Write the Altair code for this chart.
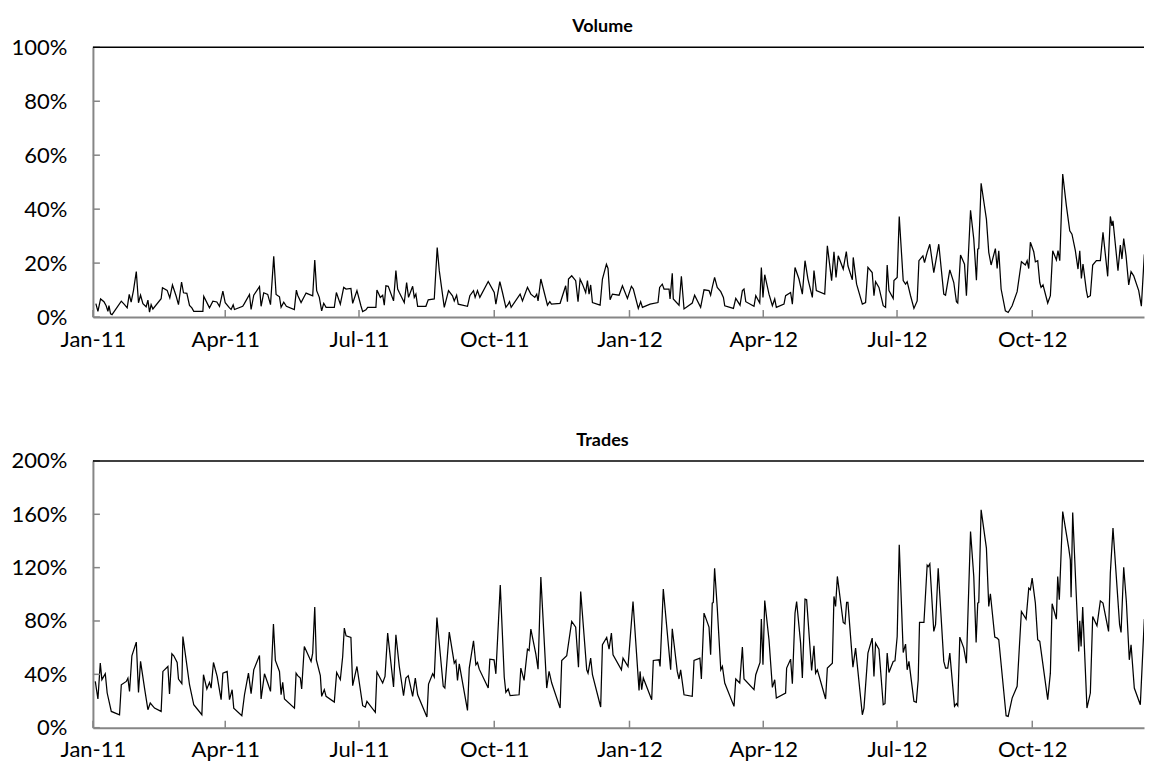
import altair as alt
import pandas as pd

# Day offsets are days since 2011-01-01; values are percentages.
volume_points = [
    (2,5.0),(3.4,2.1),(5.2,6.7),(7.5,5.7),(9,4.2),(10.2,2.1),(10.9,4.2),(12,1.2),(13,0.9),(19.3,5.9),
    (21.5,4.6),(23.3,3.4),(24.7,8.4),(26,5.5),(27.6,9.9),(29.5,16.9),(31,5.3),(32.4,8.1),(34,5.0),(36.2,3.8),
    (37.4,6.3),(38.5,1.8),(39.6,4.6),(40.8,3.0),(46.4,6.8),(47.3,10.9),(50.5,9.9),(52.3,7.1),(54.1,11.9),(56.6,7.8),
    (58.2,4.6),(60.3,13.0),(61.6,9.0),(63.9,8.8),(65.7,4.3),(67.3,3.4),(68.6,2.1),(74.8,2.1),(75.4,7.7),(78.2,4.6),
    (79.3,3.4),(81.6,5.9),(84.3,5.6),(86.1,4.0),(88.4,9.6),(90,5.3),(92.9,3.4),(94,2.8),(95.4,4.5),(96.3,2.8),
    (101.9,4.0),(103,5.0),(106.5,8.4),(107.6,2.8),(109.4,8.1),(113.3,11.3),(114.4,4.0),(116.2,9.0),(118.9,8.4),(120.8,4.6),
    (123,22.5),(124.6,8.4),(126.9,7.5),(128,3.6),(129.8,5.5),(131.6,4.0),(137,2.8),(138.4,10.0),
    (139.3,8.1),(141.6,5.4),(145,8.9),(149.5,7.9),(150.9,21.1),(152.2,9.8),(154,7.3),(155.6,2.3),(157,5.1),(158.6,3.6),
    (164.2,3.6),(165.6,9.1),(168.3,4.8),(170.6,11.0),(172.2,10.4),(175.5,10.6),(176.7,5.1),(179.6,9.8),(182.3,4.2),(183.5,2.0),
    (185.7,2.7),(186.9,3.6),(192.5,3.6),(193.2,10.0),(195.5,7.3),(197.1,8.1),(198.2,4.4),(199.3,11.6),(200.9,11.4),(204.5,6.0),
    (206.1,17.2),(207.3,10.4),(208.4,9.1),(211.8,5.4),(213.4,12.8),(214.7,7.3),(217.5,11.4),(218.6,7.3),(219.7,8.5),(220.9,4.0),
    (226.5,4.0),(228.1,6.4),(232.2,6.7),(234.2,25.8),(235.6,17.2),(239,3.6),(241.9,9.8),(244.6,7.9),(245.8,6.0),(247.4,8.1),
    (248.5,4.8),(254.8,4.0),(256.4,7.9),(258.9,9.8),(260,7.3),(261.6,9.8),(263.2,7.3),(268.9,13.2),(273,9.1),(274.1,4.8),
    (276.8,13.1),(278.6,9.1),(280.9,3.6),
    (282.5,4.8),(283.4,5.7),(284.5,3.6),(290.6,8.5),(292.2,6.0),(295.6,11.0),(297.9,8.5),(300.6,7.3),(301.9,8.5),(302.8,6.0),
    (304.7,14.1),(309.2,4.4),(310.8,5.7),(311.9,4.8),(317.8,5.1),(321.6,11.6),(322.8,5.7),(323.5,14.1),(325.7,15.3),(328.4,13.5),
    (330,5.7),(331.4,14.1),(333,12.2),(335.2,9.1),(336.4,13.5),(337.5,8.5),(338.6,11.9),(339.8,5.4),(345,4.4),(346.6,14.1),
    (349.3,19.6),(350.4,18.0),(351.8,6.4),(353.4,8.5),(357.9,8.1),(360.2,11.6),(363.6,6.9),(366.3,11.4),(367.6,10.4),(371,3.2),
    (372.6,5.7),(373.8,3.6),(379,4.8),(384.4,5.4),(385.5,11.0),(387.3,12.2),(388.5,10.4),(391.9,10.4),(392.6,6.7),(394.1,16.2),
    (394.8,6.7),(398.7,4.4),(400.3,15.1),(402.1,3.0),(407.7,5.2),(409.3,8.1),(413.4,3.6),(415.7,10.1),(419.1,9.8),(420.2,8.1),
    (421.3,11.0),(422.9,14.7),(424.7,11.0),
    (427.1,9.4),(428.9,7.3),(429.8,4.2),(435.7,3.2),(437.3,6.9),(440.2,4.4),(441.8,9.8),(442.9,10.4),(444.1,5.7),(449.7,4.0),
    (450.9,7.9),(453.6,5.2),(454.7,18.4),(455.8,7.3),(457,15.7),(459.9,8.5),(462.2,4.2),(463.8,6.7),(464.9,3.6),(470.1,4.8),
    (471.2,7.9),(474.6,9.1),(475.8,4.8),(477.6,18.4),(480.3,14.1),(482.6,8.5),(484.4,20.9),(486.4,14.1),(489.4,7.3),(490.5,17.2),
    (492.1,9.8),(497.8,8.5),(499.6,26.4),(502.5,13.5),(504.1,24.2),(505.5,14.7),(507,22.7),(510.4,17.8),(512.5,24.3),(513.6,19.0),
    (516.6,13.8),(517.2,22.1),(519.5,12.2),(523.4,4.8),(525.6,5.4),(527.2,18.4),(530.1,16.5),(531.3,7.9),(532.4,13.1),(534.7,11.0),
    (537.6,4.2),(539.2,3.6),(540.3,19.3),(541.5,9.8),(544.4,6.9),(544.9,13.5),(547.1,14.7),(548.5,37.3),(551.2,13.5),(552.8,12.2),
    (553.9,13.1),(556.2,7.9),(558.5,3.2),(560.7,6.0),(561.9,20.9),(564.6,22.7),(565.7,20.2),
    (567.5,24.0),(569.3,27.0),(572,16.5),(575.4,27.0),(578.8,8.5),(580,8.1),(582.9,17.5),(585.6,12.8),(587.4,5.7),(588.3,5.2),
    (590.2,23.0),(592.9,19.6),(594.2,7.9),(597,39.6),(599.2,28.9),(601,13.7),(601.9,25.2),(602.6,25.4),(604.2,49.6),(607.8,36.3),
    (609.4,24.0),(611,19.3),(613.9,25.4),(615.1,18.0),(616.2,24.6),(617.8,10.4),(620.7,2.3),(622.6,1.7),(625.3,4.2),(628.7,9.4),
    (631.6,20.5),(634.3,19.3),(635.5,20.9),(636.6,18.0),(637.7,27.7),(640,24.2),(641.1,20.5),(642.7,20.9),(644.1,12.8),(645,11.0),
    (646.3,11.9),(649.5,5.2),(651.3,7.9),(652.9,24.6),(655.4,21.2),(656.5,24.6),(657.7,20.9),(659.7,53.0),(662.2,41.2),(664.5,32.0),
    (666,30.7),(668.3,24.6),(670.1,17.8),(671.3,24.6),(672.4,14.3),(673.5,19.6),(675.8,9.8),(676.7,7.3),(678.5,7.9),(680.1,19.3),
    (682.6,20.9),(685.3,20.9),(687.1,31.4),(690.3,15.1),(692.1,37.3),(693.2,33.8),(693.9,35.7),(697.3,17.2),(698.9,26.7),(700,21.5),
    (701.2,29.1),(702.8,22.7),(704.6,11.9),(706.2,16.8),(708,15.3),(711.4,9.8),(713.2,4.0),(715.2,23.0),(718.2,27.0),(719.7,23.3),
]

trades_points = [
    (1.6,34.7),(3.4,21.5),(5,48.4),(6.1,36),(8.4,40.4),(9.7,26),(12.5,12.2),(18.1,9.7),(19.3,32.2),(22.7,34.7),
    (23.8,37.2),(24.9,27.2),(26.5,53.9),(29.5,64.2),(31,26.5),(32.4,49.7),(35.1,29.7),(37.4,13.5),(39,18.5),(41.9,14.7),
    (46.4,12.2),(47.6,42.2),(51,45.9),(52.1,25.2),(53.7,55.4),(55,53.9),(57.3,48.9),(58.2,36.5),(60.5,33),(61.2,68.4),
    (63.4,50.9),(65.7,32.2),(68.6,17.2),(74.1,9.7),(75.2,39.7),(77.5,29),(79.3,34),(80.4,29.7),(82,48.9),(84.5,38.5),
    (87.2,21),(88.4,40.9),(91.3,42.2),(92.9,21),(94.7,28.5),(95.8,14.7),(101.3,9),(103.1,24.7),(105.8,40.9),(107.6,25.5),
    (109.4,43.4),(113.3,54.2),(114.4,21.5),(116.7,40.4),(118.9,33.5),(120.8,27.2),(122.8,77.7),(124.1,50.4),(126.9,42.2),(128,24.7),
    (129.1,34),(130.3,21.5),(137.1,14.7),(138.2,40.9),
    (139.3,39),(141.1,37.2),(142,29),(143.8,60.9),(148.4,49.7),(149.5,55.9),(150.9,90.4),(152,50.9),(154.7,39),(155.6,23.5),
    (157.4,28.5),(158.6,23.5),(164.2,19.2),(165.8,41.4),(168.3,36),(169.9,53.4),(171,74.7),(172.2,68.9),(175.5,67.7),(176.7,31.5),
    (179.6,45.9),(183.5,16.5),(185.3,15.5),(186.4,19.7),(192.1,11.5),(193.2,41.7),(197.1,33.5),(198.7,38.5),(200.5,70.9),(204.5,30.5),
    (206.1,69.7),(208.4,45.9),(211.3,24),(212.9,37.2),(214.5,39),(217.5,23.5),(219.3,37.2),(220.9,24.7),(227.2,8),(228.3,32.7),
    (231.1,40.4),(232.2,38),(234,82.6),(238.3,31),(239.4,29.7),(242.4,71.7),(245.8,48.4),(246.9,50.4),(248,35.5),(249.2,47.9),
    (254.8,13),(256,44.7),(258.9,65.2),(260.5,47.2),(261.6,48.9),(262.8,43.9),(268.9,29.7),(270,51.4),(272.9,50.9),(274.1,40.4),
    (277.1,107),(279.8,38),(280.9,26.5),
    (282.5,29),(283.8,24),(289.9,24.7),(291.1,44.7),(293.3,35.5),(295.6,58.9),(296.7,57.9),(297.9,73.9),(301.3,55.2),(302.8,43.9),
    (304.7,112.9),(308.7,29.7),(310.3,42.2),(312.1,33.5),(317.8,14.7),(318.9,50.4),(322.3,53.9),(325.7,79.7),(328.4,75.4),(330.3,45.4),
    (331.8,102.1),(335.9,43.4),(336.8,40.9),(338.6,52.2),(339.8,39.7),(345.4,15.5),(346.6,62.2),(349.5,67.7),(351.1,58.9),(352.7,70.9),
    (353.8,54.7),(359.5,43.4),(360.6,52.2),(364,45.9),(367.4,94.6),(371.5,28),(372.2,42.2),(373.3,28.5),(374.4,37.2),(380.1,21),
    (381.2,50.4),(385.1,50.9),(385.8,45.9),(388,103.9),(393,43.4),(394.1,74.2),(397.5,42.2),(398.7,36.5),(399.8,43.4),(402.1,24.7),
    (407.7,23.5),(408.9,50.4),(412.9,52.2),(413.9,36.5),(415.7,85.9),(419.1,75.4),(420.2,54.7),(421.3,93.4),(422,93.9),(422.9,119.6),
    (424.7,90),
    (427.1,43.4),(428.2,45.9),(429.8,33.5),(436.1,16),(437.3,36.5),(440,33.5),(441.8,60.4),(442.9,36.5),(449.7,28.5),(450.9,39.7),
    (453.8,48.9),(454.7,81.4),(455.8,47.2),(457,95.4),(459.9,65.9),(462.2,30.2),(463.8,36),(464.9,22.2),(471.2,26),(471.9,44.7),
    (474.6,51.4),(475.8,33),(477.6,85.9),(478.7,94.6),(481.4,63.4),(482.6,37.2),(484.4,96.4),(485.5,95.9),(488.9,42.9),(490.5,61.4),
    (491.6,40.9),(492.8,43.4),(498.4,21.5),(499.6,44.7),(503,48.4),(504.1,98.4),(505.2,90.9),(506.4,113.4),(510.4,78.9),(511.6,77.9),
    (512.7,93.9),(513.6,93.9),(517,45.4),(518.8,59.7),(523.4,9.7),(524.5,14.7),(527.2,55.9),(530.1,67.2),(531.3,38.5),(532.4,63.4),
    (534.7,58.9),(537.6,17.2),(538.8,18),(540.3,55.9),(541.5,41.4),(544.4,49.7),(545.6,50.2),(547.1,68.4),(548.5,137.1),(551.2,56.4),
    (552.8,62.7),(553.9,43.4),(555.1,49.7),(558.5,19.7),(560.1,19),(561.4,36),(562.3,78.9),(565.3,78.9),(567.5,121.8),
    (568.2,120.8),(569.3,122.8),(572,72.2),(573.2,77.2),(575,119.6),(578.8,49.7),(580,44.7),(581.5,44.7),(582.9,55.9),(586.1,16),
    (587.4,18),(588.3,16.5),(589.7,67.9),(592.4,59.7),(594.2,48.4),(597,147.1),(599.2,113.4),(600.8,63.9),(601.9,93.4),(602.6,93.9),
    (604.2,163.3),(607.8,134.6),(609.4,90.9),(610.5,100.4),(613.5,67.9),(615.1,67.2),(616.2,65.9),(621.2,9),(622.6,8.5),(625.3,22.2),
    (628.7,31),(631.6,87.1),(634.8,81.4),(636.6,104.6),(637.7,103.4),(638.9,112.1),(641.1,93.4),(642.7,65.9),(644.1,64.7),(649.5,21),
    (651.3,40.9),(652.5,92.9),(655.4,81.4),(656.3,113.4),(657.4,95.9),(659.7,162),(663.8,134.6),(664.9,125.8),(665.4,97.9),(666.5,161.3),
    (669.9,74.7),(670.6,57.2),(671.3,80.1),(672.2,60.9),(673.3,90.4),(676.2,14.7),(678.5,26),(680.1,83.4),(683,76.4),(685.3,95.1),
    (687.1,93.4),(690.9,72.2),(692.1,115.9),(693.9,149.6),(698.4,77.2),(699.4,71.4),(701.2,120.3),(703,94.6),(705,50.9),(706.2,62.2),
    (708.4,29.7),(712.5,17.2),(715.2,80.9),(717.7,80.4),(718.8,63.9),(720,64.7),
]

x_tick_dates = ["2011-01-01", "2011-04-01", "2011-07-01", "2011-10-01",
                "2012-01-01", "2012-04-01", "2012-07-01", "2012-10-01"]
volume_yticks = [0, 20, 40, 60, 80, 100]
trades_yticks = [0, 40, 80, 120, 160, 200]

BASE = pd.Timestamp("2011-01-01")
FONT = "Lato"
AXIS_GREY = "#868686"
W = 1052


def to_dt(ts):
    return alt.DateTime(year=ts.year, month=ts.month, date=ts.day)


x_domain = [to_dt(BASE), alt.DateTime(year=2012, month=12, date=16)]
x_values = [to_dt(pd.Timestamp(d)) for d in x_tick_dates]


def panel(points, title, ymax, yticks, h):
    df = pd.DataFrame(points, columns=["day", "value"])
    df["date"] = (BASE + pd.to_timedelta(df["day"], unit="D")).dt.strftime("%Y-%m-%dT%H:%M:%S")
    xs = alt.Scale(domain=x_domain)
    ys = alt.Scale(domain=[0, ymax], nice=False)

    line = alt.Chart(df).mark_line(color="black", strokeWidth=1.25, clip=True).encode(
        x=alt.X("date:T", scale=xs, title=None,
                axis=alt.Axis(values=x_values, format="%b-%y", grid=False, ticks=False,
                              domainColor=AXIS_GREY, domainWidth=2, labelPadding=12,
                              labelFont=FONT, labelFontSize=22, labelColor="black",
                              labelFlush=False, labelOverlap=False)),
        y=alt.Y("value:Q", scale=ys, title=None,
                axis=alt.Axis(values=yticks, labelExpr="datum.value + '%'", grid=False,
                              ticks=False, domainColor=AXIS_GREY, domainWidth=2,
                              labelPadding=26, labelFont=FONT, labelFontSize=22,
                              labelColor="black")),
    )

    top = alt.Chart(pd.DataFrame({"v": [ymax]})).mark_rule(color="black", strokeWidth=1.6).encode(
        y=alt.Y("v:Q", scale=ys)
    )
    yt = alt.Chart(pd.DataFrame({"v": yticks})).mark_rule(color=AXIS_GREY, strokeWidth=1.5).encode(
        y=alt.Y("v:Q", scale=ys), x=alt.value(0), x2=alt.value(7)
    )
    xt = alt.Chart(pd.DataFrame({"d": x_tick_dates})).mark_rule(color=AXIS_GREY, strokeWidth=1.5).encode(
        x=alt.X("d:T", scale=xs), y=alt.value(h), y2=alt.value(h - 7)
    )
    return alt.layer(line, xt, yt, top).properties(
        width=W, height=h,
        title=alt.TitleParams(title, font=FONT, fontSize=18, fontWeight="bold",
                              color="black", dx=-16, offset=0),
    )


chart = alt.vconcat(
    panel(volume_points, "Volume", 100, volume_yticks, 270),
    panel(trades_points, "Trades", 200, trades_yticks, 267),
    spacing=82,
).properties(
    padding={"left": 3, "top": 10, "right": 0, "bottom": 0},
    background="white",
).configure_view(stroke=None)

chart.save("out.html", embed_options={"renderer": "svg", "actions": False})
